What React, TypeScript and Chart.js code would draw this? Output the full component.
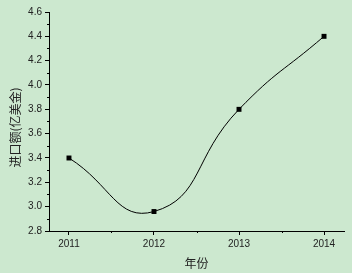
import React, { useEffect, useRef } from "react";
import { Chart, registerables } from "chart.js";

Chart.register(...registerables);

const years = [2011, 2012, 2013, 2014];
const importValues = [3.4, 2.96, 3.8, 4.4];
const xTickValues = [2011, 2012, 2013, 2014];
const xMinorTicks = [2011.5, 2012.5, 2013.5];
const yMinorTicks = [2.9, 3.1, 3.3, 3.5, 3.7, 3.9, 4.1, 4.3, 4.5];
const yTitle = "进口额(亿美金)";
const xTitle = "年份";

const BG = "#cce8cf";

const minorTicksPlugin = {
  id: "minorTicks",
  afterDraw(chart: any) {
    const ctx = chart.ctx;
    const xs = chart.scales.x;
    const ys = chart.scales.y;
    ctx.save();
    ctx.strokeStyle = "#000";
    ctx.lineWidth = 1;
    ctx.beginPath();
    for (const v of yMinorTicks) {
      const py = Math.round(ys.getPixelForValue(v)) + 0.5;
      ctx.moveTo(ys.right - 2, py);
      ctx.lineTo(ys.right, py);
    }
    for (const v of xMinorTicks) {
      const px = Math.round(xs.getPixelForValue(v)) + 0.5;
      ctx.moveTo(px, xs.top);
      ctx.lineTo(px, xs.top + 2);
    }
    ctx.stroke();
    ctx.restore();
  },
};

export default function App() {
  const ref = useRef<HTMLCanvasElement>(null);
  useEffect(() => {
    const chart = new Chart(ref.current!, {
      type: "line",
      data: {
        datasets: [
          {
            data: years.map((y, i) => ({ x: y, y: importValues[i] })),
            borderColor: "#000",
            borderWidth: 1,
            tension: 0.5,
            pointStyle: "rect",
            pointRadius: 3.5,
            pointBackgroundColor: "#000",
            pointBorderColor: "#000",
            pointBorderWidth: 0,
          },
        ],
      },
      options: {
        animation: false,
        responsive: false,
        maintainAspectRatio: false,
        layout: { padding: { top: 12, right: 8, left: 0, bottom: 0 } },
        plugins: { legend: { display: false }, tooltip: { enabled: false } },
        scales: {
          x: {
            type: "linear",
            min: 2010.765,
            max: 2014.235,
            afterBuildTicks: (s: any) => {
              s.ticks = xTickValues.map((v) => ({ value: v }));
            },
            afterFit: (s: any) => {
              s.height = 42;
            },
            border: { color: "#000", width: 1 },
            grid: { drawOnChartArea: false, drawTicks: true, tickLength: 4, color: "#000" },
            ticks: {
              color: "#222",
              font: { family: "Liberation Sans, Arial", size: 10 },
              padding: 3,
              maxRotation: 0,
              callback: (v: any) => String(v),
            },
            title: {
              display: true,
              text: xTitle,
              color: "#222",
              font: { family: "Noto Sans CJK SC", size: 12 },
              padding: { top: 4, bottom: 2 },
            },
          },
          y: {
            min: 2.8,
            max: 4.6,
            afterBuildTicks: (s: any) => {
              const t = [];
              for (let i = 0; i <= 9; i++) t.push({ value: Math.round((2.8 + i * 0.2) * 10) / 10 });
              s.ticks = t;
            },
            afterFit: (s: any) => {
              s.width = 49;
            },
            border: { color: "#000", width: 1 },
            grid: { drawOnChartArea: false, drawTicks: true, tickLength: 4, color: "#000" },
            ticks: {
              color: "#222",
              font: { family: "Liberation Sans, Arial", size: 10 },
              padding: 3,
              callback: (v: any) => Number(v).toFixed(1),
            },
            title: {
              display: true,
              text: yTitle + "\u3000",
              color: "#222",
              font: { family: "Noto Sans CJK SC", size: 12 },
              padding: { top: 8, bottom: 2 },
            },
          },
        },
      },
      plugins: [minorTicksPlugin],
    } as any);
    return () => chart.destroy();
  }, []);
  return (
    <div style={{ position: "fixed", left: 0, top: 0, width: 352, height: 273, background: BG }}>
      <canvas ref={ref} width={352} height={273} style={{ width: 352, height: 273, display: "block" }} />
    </div>
  );
}
